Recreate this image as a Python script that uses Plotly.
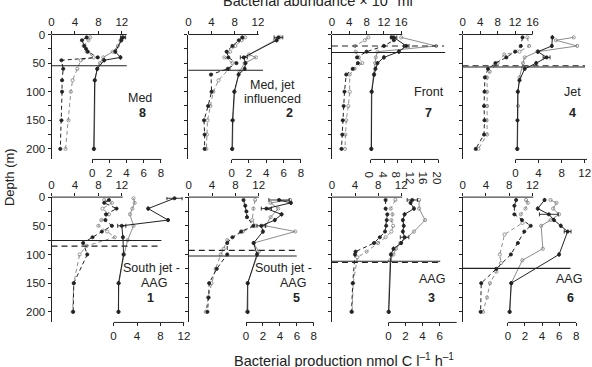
import plotly.graph_objects as go

W, H = 592, 367

# ---------------- data ----------------
STATIONS = [8, 2, 7, 4, 1, 5, 3, 6]
ZONE_LINES = [["Med"], ["Med, jet", "influenced"], ["Front"], ["Jet"],
              ["South jet -", "AAG"], ["South jet -", "AAG"], ["AAG"], ["AAG"]]
MLD_SOLID = [54.5, 62.5, 31.5, 56.7, 75.6, 102.6, 111.7, 124.3]
MLD_DASHED = [None, None, 20.0, 54.5, 85.4, 92.8, 114.0, None]

TOP_TICKS = [[0, 4, 8, 12], [0, 4, 8, 12], [0, 4, 8, 12, 16], [0, 4, 8, 12, 16],
             [0, 4, 8, 12], [0, 4, 8, 12], [0, 4, 8, 12], [0, 4, 8, 12]]
BOTTOM_TICKS = [[0, 2, 4, 6, 8], [0, 2, 4, 6, 8], [0, 4, 8, 12, 16, 20], [0, 4, 8, 12],
                [0, 4, 8, 12], [0, 2, 4, 6, 8], [0, 2, 4, 6, 8], [0, 2, 4, 6, 8]]
DEPTH_MAJOR = 50
DEPTH_MINOR = 25

# (depth m, value) pairs; abundance x10^5 ml-1 (top axis), production nmol C l-1 h-1 (bottom axis)
st8_abund_filled = [(5, 6.0), (10, 5.2), (20, 5.6), (25, 5.9), (30, 6.2), (40, 7.9), (45, 1.7), (60, 2.0), (80, 1.8), (100, 1.8), (150, 1.7), (200, 1.5)]
st8_abund_open = [(5, 6.6), (10, 6.3), (20, 5.5), (30, 6.0), (40, 7.2), (45, 5.0), (60, 4.4), (80, 3.6), (100, 3.3), (150, 2.9), (200, 2.4)]
st8_prod_filled = [(5, 3.6), (10, 3.4), (30, 2.7), (40, 3.3), (45, 1.4), (60, 0.6), (80, 0.3), (200, 0.2)]
st8_prod_open = [(5, 3.5), (10, 3.3), (20, 3.0), (30, 2.4), (40, 1.3), (50, 0.9), (60, 0.6), (80, 0.35), (200, 0.25)]

st2_abund_filled = [(5, 9.3), (10, 8.7), (20, 7.6), (30, 6.6), (40, 6.9), (50, 8.3), (60, 6.8), (70, 3.9), (100, 4.0), (125, 3.4), (150, 2.7), (175, 2.8), (200, 2.8)]
st2_abund_open = [(5, 9.8), (10, 9.2), (20, 8.1), (30, 7.2), (40, 6.2), (50, 7.6), (60, 7.0), (80, 5.2), (100, 4.3), (125, 3.8), (150, 3.3), (175, 3.2), (200, 3.1)]
st2_prod_filled = [(5, 5.4), (10, 5.2), (40, 1.4), (50, 1.6), (60, 1.5), (70, 0.8), (100, 0.3), (150, 0.1), (200, 0.05)]
st2_prod_open = [(5, 5.6), (10, 5.0), (35, 2.0), (40, 2.8), (50, 1.5), (65, 0.9), (100, 0.35), (150, 0.15), (200, 0.1)]

st7_abund_filled = [(5, 13.8), (10, 14.3), (20, 12.0), (30, 8.0), (40, 5.8), (50, 6.0), (60, 4.8), (70, 3.3), (100, 2.9), (125, 2.7), (150, 2.5), (175, 2.4), (200, 2.2)]
st7_abund_open = [(5, 8.4), (10, 7.6), (20, 5.3), (30, 5.5), (40, 6.2), (50, 7.0), (60, 5.2), (70, 4.1), (100, 4.1), (125, 3.8), (150, 3.3), (175, 3.1), (200, 3.0)]
st7_prod_filled = [(5, 6.8), (20, 10.5), (30, 8.3), (40, 3.9), (50, 2.0), (60, 1.4), (70, 1.0), (100, 0.3), (200, 0.2)]
st7_prod_open = [(5, 9.0), (20, 19.3), (30, 2.0), (40, 1.5), (50, 1.3), (70, 0.9), (100, 0.2), (200, 0.1)]

st4_abund_filled = [(5, 13.7), (20, 13.3), (30, 12.0), (40, 10.0), (50, 7.5), (60, 5.8), (75, 5.1), (100, 5.0), (125, 4.9), (150, 5.0), (175, 4.9), (200, 3.0)]
st4_abund_open = [(5, 14.8), (20, 15.2), (30, 13.0), (35, 9.5), (50, 8.0), (65, 6.2), (75, 5.6), (100, 5.6), (125, 5.6), (150, 5.5), (175, 5.6), (200, 3.6)]
st4_prod_filled = [(5, 6.4), (20, 6.3), (30, 3.9), (40, 5.4), (50, 3.6), (60, 1.6), (80, 0.7), (100, 0.4), (150, 0.35), (200, 0.3)]
st4_prod_open = [(5, 10.1), (10, 7.0), (20, 10.7), (30, 3.8), (40, 1.6), (50, 1.3), (75, 0.7), (100, 0.45), (125, 0.45), (200, 0.35)]

st1_abund_filled = [(5, 9.8), (10, 9.0), (20, 11.1), (30, 9.3), (40, 9.2), (50, 10.3), (60, 8.6), (70, 7.0), (80, 5.4), (100, 6.1), (150, 3.8), (200, 3.7)]
st1_abund_open = [(5, 9.0), (10, 10.3), (20, 8.7), (30, 9.8), (40, 8.5), (50, 8.0), (60, 9.5), (70, 10.8), (85, 6.0), (100, 4.8), (150, 3.8), (200, 3.6)]
st1_prod_filled = [(2, 10.4), (20, 5.9), (40, 9.3), (50, 1.4), (70, 1.6), (100, 1.7), (150, 0.85), (200, 0.85)]
st1_prod_open = [(2, 3.4), (10, 3.6), (20, 3.2), (30, 2.8), (50, 3.4), (75, 2.4), (100, 1.8), (150, 0.9), (200, 0.8)]

st5_abund_filled = [(5, 9.4), (15, 9.7), (25, 9.9), (35, 10.0), (50, 11.1), (60, 9.0), (70, 7.5), (80, 6.6), (100, 6.6), (125, 4.8), (150, 3.5), (175, 3.4), (200, 3.2)]
st5_abund_open = [(5, 11.4), (20, 11.1), (40, 10.9), (50, 11.4), (60, 9.3), (75, 6.6), (90, 6.0), (100, 5.5), (125, 4.6), (150, 3.9), (175, 3.3), (200, 2.9)]
st5_prod_filled = [(5, 3.9), (10, 5.3), (20, 2.4), (30, 4.2), (40, 3.4), (50, 1.8), (60, 2.0), (80, 0.9), (100, 1.3), (150, 0.2), (200, 0.2)]
st5_prod_open = [(5, 5.2), (10, 2.9), (20, 3.8), (35, 2.9), (50, 2.3), (60, 5.8), (80, 0.9), (95, 1.5), (150, 0.2), (200, 0.1)]

st3_abund_filled = [(5, 9.3), (20, 9.3), (30, 9.6), (40, 9.5), (50, 9.4), (60, 9.2), (70, 8.3), (80, 7.3), (95, 4.1), (100, 4.0), (150, 3.6), (200, 3.4)]
st3_abund_open = [(5, 11.0), (20, 10.2), (30, 10.5), (40, 10.3), (50, 10.6), (60, 10.3), (70, 9.3), (80, 8.0), (95, 6.0), (105, 4.4), (150, 3.7), (200, 3.5)]
st3_prod_filled = [(5, 2.8), (10, 2.6), (20, 3.0), (30, 1.9), (40, 1.7), (50, 1.8), (60, 1.7), (70, 1.9), (80, 1.5), (90, 0.6), (100, 0.3), (200, 0.05)]
st3_prod_open = [(5, 3.6), (20, 3.6), (40, 4.3), (60, 3.0), (80, 1.4), (90, 0.9), (100, 0.6), (110, 0.2), (200, 0.0)]

st6_abund_filled = [(5, 9.2), (15, 8.9), (30, 8.9), (40, 10.2), (50, 11.7), (60, 10.6), (80, 9.5), (100, 8.3), (125, 5.8), (150, 3.2), (200, 3.1)]
st6_abund_open = [(5, 10.9), (10, 11.2), (20, 10.8), (30, 10.0), (45, 10.3), (65, 7.2), (100, 6.4), (115, 6.6), (130, 5.8), (150, 4.7), (175, 4.2), (200, 3.5)]
st6_prod_filled = [(5, 4.3), (20, 3.5), (30, 4.8), (40, 5.4), (50, 6.2), (60, 7.0), (100, 6.0), (150, 0.4), (200, 0.2)]
st6_prod_open = [(5, 5.0), (10, 5.7), (20, 5.3), (30, 6.0), (40, 5.0), (50, 3.9), (90, 4.1), (110, 1.7), (150, 0.4), (200, 0.25)]

# horizontal error bars on production (depth m, +/- nmol C l-1 h-1)
st8_prod_err = [(5, 0.3)]
st2_prod_err = [(5, 0.5), (40, 0.4)]
st7_prod_err = [(5, 0.9), (20, 0.8)]
st4_prod_err = [(40, 0.6)]
st1_prod_err = [(2, 1.3), (50, 0.7)]
st5_prod_err = [(5, 1.2), (20, 0.6), (50, 0.5)]
st3_prod_err = [(5, 0.6), (70, 0.5)]
st6_prod_err = [(30, 1.1), (60, 0.4)]

SERIES = [
    (st8_abund_filled, st8_abund_open, st8_prod_filled, st8_prod_open, st8_prod_err),
    (st2_abund_filled, st2_abund_open, st2_prod_filled, st2_prod_open, st2_prod_err),
    (st7_abund_filled, st7_abund_open, st7_prod_filled, st7_prod_open, st7_prod_err),
    (st4_abund_filled, st4_abund_open, st4_prod_filled, st4_prod_open, st4_prod_err),
    (st1_abund_filled, st1_abund_open, st1_prod_filled, st1_prod_open, st1_prod_err),
    (st5_abund_filled, st5_abund_open, st5_prod_filled, st5_prod_open, st5_prod_err),
    (st3_abund_filled, st3_abund_open, st3_prod_filled, st3_prod_open, st3_prod_err),
    (st6_abund_filled, st6_abund_open, st6_prod_filled, st6_prod_open, st6_prod_err),
]

# ---------------- layout geometry (pixels) ----------------
ROWS = [(29.0, 156.0), (194.3, 321.7)]
GEOM = [
    dict(row=0, xL=49.0, xR=170, sA=5.92, b0=90.0, sB=8.69, topEnd=125.0, botEnd=160.0, mldEnd=(125.0, None),
         text=[(138, 94)], num=(141, 108.7)),
    dict(row=0, xL=187.3, xR=312, sA=5.85, b0=231.0, sB=8.75, topEnd=258.3, botEnd=301.0, mldEnd=(262.7, None),
         text=[(272, 80.7), (272, 95)], num=(289, 108.3)),
    dict(row=0, xL=332.3, xR=452, sA=4.375, b0=371.5, sB=3.42, topEnd=403.3, botEnd=440.0, mldEnd=(446.7, 445.7),
         text=[(430, 87.3)], num=(430, 108.3)),
    dict(row=0, xL=464.3, xR=591, sA=4.42, b0=517.7, sB=5.83, topEnd=535.0, botEnd=590.0, mldEnd=(588.0, 588.0),
         text=[(575, 87.3)], num=(575, 108.3)),
    dict(row=1, xL=49.0, xR=186, sA=5.92, b0=111.7, sB=5.92, topEnd=121.0, botEnd=183.0, mldEnd=(160.0, 157.0),
         text=[(150, 266.7), (153, 281.7)], num=(149, 296.7)),
    dict(row=1, xL=187.7, xR=318, sA=5.88, b0=245.5, sB=8.56, topEnd=258.3, botEnd=314.0, mldEnd=(296.7, 295.0),
         text=[(283, 266.7), (293, 281.7)], num=(296, 296.7)),
    dict(row=1, xL=332.3, xR=455, sA=5.83, b0=389.3, sB=8.63, topEnd=403.3, botEnd=458.3, mldEnd=(441.7, 441.7),
         text=[(433.3, 277.3)], num=(433.3, 296.7)),
    dict(row=1, xL=464.3, xR=591, sA=5.88, b0=510.0, sB=8.63, topEnd=535.7, botEnd=579.0, mldEnd=(573.3, None),
         text=[(571.7, 277.3)], num=(573.3, 296.7)),
]

INK = "#222222"
GREY = "#808080"
FONT = "Liberation Sans, Arial, Helvetica, sans-serif"
TICK_SIZE = 11.5
LABEL_SIZE = 12.5


def xid(k):
    return "x" if k == 1 else f"x{k}"


def yid(k):
    return "y" if k == 1 else f"y{k}"


def xkey(k):
    return "xaxis" if k == 1 else f"xaxis{k}"


def ykey(k):
    return "yaxis" if k == 1 else f"yaxis{k}"


def px(x):
    return x / W


def py(y):
    return 1 - y / H


fig = go.Figure()
layout = dict(width=W, height=H, margin=dict(l=0, r=0, t=0, b=0),
              paper_bgcolor="white", plot_bgcolor="rgba(0,0,0,0)", showlegend=False,
              font=dict(family=FONT, size=TICK_SIZE, color=INK))
shapes = []
annotations = []

for i, g in enumerate(GEOM):
    n = i + 1
    t, b = 2 * n - 1, 2 * n
    yt, yb = ROWS[g["row"]]
    xL, xR = g["xL"], g["xR"]
    dom = [px(xL), px(xR)]
    common = dict(showgrid=False, zeroline=False, showline=False, ticks="outside", ticklen=3,
                  tickwidth=1, tickcolor=INK, tickfont=dict(size=TICK_SIZE, family=FONT, color=INK))
    layout[xkey(t)] = dict(domain=dom, range=[0, (xR - xL) / g["sA"]], anchor=yid(n), side="top",
                           tickmode="array", tickvals=TOP_TICKS[i],
                           ticktext=[str(v) for v in TOP_TICKS[i]], **common)
    layout[xkey(b)] = dict(domain=dom, range=[(xL - g["b0"]) / g["sB"], (xR - g["b0"]) / g["sB"]],
                           anchor=yid(n), side="bottom", overlaying=xid(t), tickmode="array",
                           tickvals=BOTTOM_TICKS[i], ticktext=[str(v) for v in BOTTOM_TICKS[i]], **common)
    ycommon = dict(common)
    ycommon["showline"] = True
    layout[ykey(n)] = dict(domain=[py(yb), py(yt)], range=[218.5, 0], anchor=xid(t), side="left",
                           tickmode="linear", tick0=0, dtick=DEPTH_MAJOR,
                           minor=dict(dtick=DEPTH_MINOR, tick0=0, ticks="outside", ticklen=3,
                                      tickcolor=INK, showgrid=False),
                           showticklabels=(i in (0, 4)),
                           linecolor=INK, linewidth=1, **ycommon)

    def dfrac(pix):
        return (pix - xL) / (xR - xL)

    # axis lines of the two x scales (only over their labelled span)
    shapes.append(dict(type="line", xref=f"{xid(t)} domain", yref=f"{yid(n)} domain",
                       x0=0, x1=dfrac(g["topEnd"]), y0=1, y1=1, line=dict(color=INK, width=1)))
    shapes.append(dict(type="line", xref=f"{xid(t)} domain", yref=f"{yid(n)} domain",
                       x0=dfrac(g["b0"]), x1=dfrac(g["botEnd"]), y0=0, y1=0, line=dict(color=INK, width=1)))
    # mixed-layer reference lines
    if MLD_SOLID[i] is not None:
        shapes.append(dict(type="line", xref=f"{xid(t)} domain", yref=yid(n),
                           x0=0, x1=dfrac(g["mldEnd"][0]), y0=MLD_SOLID[i], y1=MLD_SOLID[i],
                           line=dict(color=INK, width=1.1)))
    if MLD_DASHED[i] is not None:
        shapes.append(dict(type="line", xref=f"{xid(t)} domain", yref=yid(n),
                           x0=0, x1=dfrac(g["mldEnd"][1]), y0=MLD_DASHED[i], y1=MLD_DASHED[i],
                           line=dict(color=INK, width=1.1, dash="6px,4px")))

    a_f, a_o, p_f, p_o, p_err = SERIES[i]
    err_map = dict(p_err)
    specs = [
        (a_o, xid(t), GREY, "circle-open", "4px,3px", 0.9, False),
        (p_o, xid(b), GREY, "circle-open", "solid", 0.9, False),
        (a_f, xid(t), INK, "circle", "4px,3px", 1.0, False),
        (p_f, xid(b), INK, "circle", "solid", 1.0, True),
    ]
    for data, xa, col, sym, dash, lw, with_err in specs:
        kw = {}
        if with_err:
            kw["error_x"] = dict(type="data", array=[err_map.get(d, 0) for d, _ in data],
                                 color=col, thickness=0.9, width=2)
        fig.add_trace(go.Scatter(
            x=[v for _, v in data], y=[d for d, _ in data], xaxis=xa, yaxis=yid(n),
            mode="lines+markers", cliponaxis=False,
            line=dict(color=col, width=lw, dash=dash),
            marker=dict(symbol=sym, size=3.2, color=col, line=dict(color=col, width=0.8)),
            hoverinfo="skip", **kw))

    for line_txt, (tx, ty) in zip(ZONE_LINES[i], g["text"]):
        annotations.append(dict(text=line_txt, x=px(tx), y=py(ty), xref="paper", yref="paper",
                                showarrow=False, xanchor="center", yanchor="middle",
                                font=dict(size=LABEL_SIZE, family=FONT, color=INK)))
    annotations.append(dict(text=f"<b>{STATIONS[i]}</b>", x=px(g["num"][0]), y=py(g["num"][1]),
                            xref="paper", yref="paper", showarrow=False, xanchor="center", yanchor="middle",
                            font=dict(size=LABEL_SIZE, family=FONT, color=INK)))

annotations.append(dict(text="Bacterial abundance × 10<sup>5</sup> ml<sup>–1</sup>", x=px(324), y=py(-6),
                        xref="paper", yref="paper", showarrow=False, xanchor="center", yanchor="middle",
                        font=dict(size=14.5, family=FONT, color=INK)))
annotations.append(dict(text="Bacterial production nmol C l<sup>–1</sup> h<sup>–1</sup>", x=px(344), y=py(360),
                        xref="paper", yref="paper", showarrow=False, xanchor="center", yanchor="middle",
                        font=dict(size=14.5, family=FONT, color=INK)))
annotations.append(dict(text="Depth (m)", x=px(6), y=py(174), xref="paper", yref="paper", textangle=-90,
                        showarrow=False, xanchor="center", yanchor="middle",
                        font=dict(size=13, family=FONT, color=INK)))

layout["shapes"] = shapes
layout["annotations"] = annotations
fig.update_layout(**layout)
fig.write_html("out.html")
